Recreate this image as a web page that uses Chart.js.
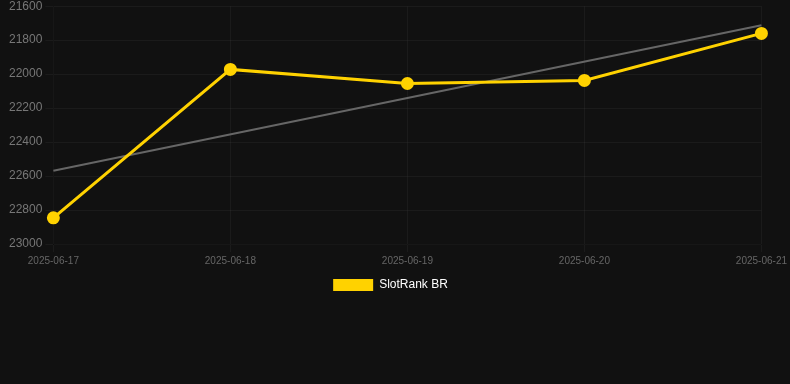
<!DOCTYPE html>
<html><head><meta charset="utf-8">
<script src="https://cdn.jsdelivr.net/npm/chart.js@4"></script>
<style>
html,body{margin:0;padding:0;background:#111111;overflow:hidden;}
#wrap{width:790px;height:305px;position:relative;margin-top:-4px;}
</style></head>
<body>
<div id="wrap"><canvas id="c"></canvas></div>
<script>
const categories = ['2025-06-17','2025-06-18','2025-06-19','2025-06-20','2025-06-21'];
const rankValues = [22846, 21972, 22055, 22037, 21760];
const trendValues = [22569, null, null, null, 21712];
const yTicks = [21600, 21800, 22000, 22200, 22400, 22600, 22800, 23000];

const legendShift = {
  id: 'legendShift',
  afterLayout(chart) {
    if (chart.legend) { chart.legend.left -= 5; chart.legend.right -= 5; }
  }
};

new Chart(document.getElementById('c'), {
  type: 'line',
  data: {
    labels: categories,
    datasets: [
      {
        label: 'SlotRank BR',
        data: rankValues,
        borderColor: '#FFD200',
        backgroundColor: '#FFD200',
        borderWidth: 3,
        pointRadius: 5,
        pointHoverRadius: 5,
        pointBackgroundColor: '#FFD200',
        pointBorderColor: '#FFD200',
        tension: 0,
        order: 1
      },
      {
        label: 'trend',
        data: trendValues,
        borderColor: '#666666',
        borderWidth: 2,
        pointRadius: 0,
        spanGaps: true,
        tension: 0,
        order: 2
      }
    ]
  },
  plugins: [legendShift],
  options: {
    responsive: true,
    maintainAspectRatio: false,
    animation: false,
    layout: { padding: { left: 1, right: 0, top: 0, bottom: 0 } },
    plugins: {
      legend: {
        position: 'bottom',
        labels: {
          color: '#ffffff',
          font: { family: 'Arial, Liberation Sans', size: 12 },
          boxWidth: 40,
          boxHeight: 12,
          padding: 9,
          generateLabels: (chart) => Chart.defaults.plugins.legend.labels.generateLabels(chart)
            .filter(l => l.text !== 'trend')
            .map(l => Object.assign(l, { lineWidth: 0, strokeStyle: 'rgba(0,0,0,0)' }))
        }
      },
      tooltip: { enabled: false }
    },
    scales: {
      x: {
        grid: { color: 'rgba(255,255,255,0.045)' },
        ticks: { color: '#666666', font: { family: 'Arial, Liberation Sans', size: 10 }, maxRotation: 0 }
      },
      y: {
        reverse: true,
        min: yTicks[0],
        max: yTicks[yTicks.length - 1],
        afterBuildTicks: (axis) => { axis.ticks = yTicks.map(v => ({ value: v })); },
        afterFit: (axis) => { axis.width += 5; },
        grid: { color: 'rgba(255,255,255,0.045)' },
        ticks: { color: '#777777', font: { family: 'Arial, Liberation Sans', size: 12 }, callback: (v) => String(v) }
      }
    }
  }
});
</script>
</body></html>
